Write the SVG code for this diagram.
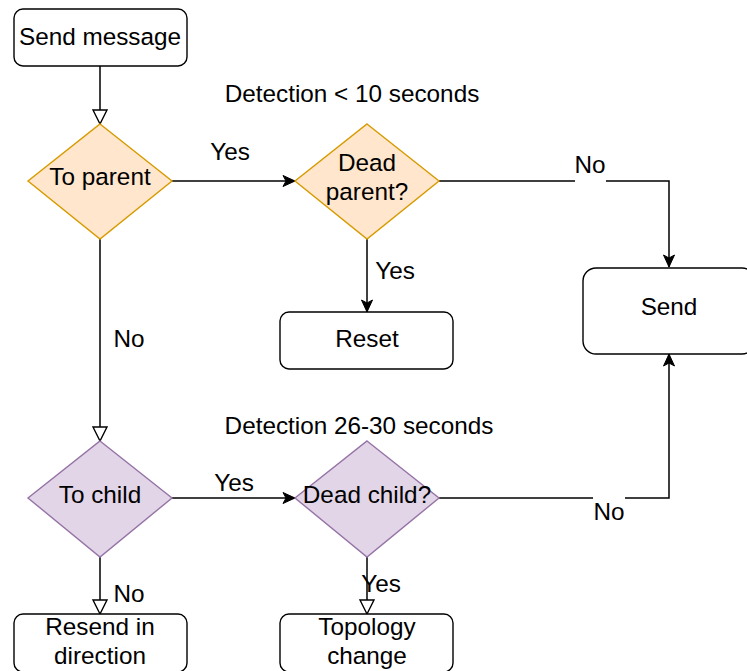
<svg xmlns="http://www.w3.org/2000/svg" width="747" height="671" viewBox="0 0 747 671">
<style>
text{font-family:"Liberation Sans",Arial,sans-serif;font-size:24.3px;fill:#000;text-anchor:middle}
.box{fill:#fff;stroke:#000;stroke-width:1.4}
.org{fill:#ffe6cc;stroke:#d79b00;stroke-width:1.4}
.pur{fill:#e1d5e7;stroke:#9673a6;stroke-width:1.4}
.ln{fill:none;stroke:#000;stroke-width:1.5}
.open{marker-end:url(#open)}
.blk{marker-end:url(#blk)}
.bg{fill:#fff}
</style>
<defs>
<marker id="open" markerUnits="userSpaceOnUse" markerWidth="18" markerHeight="18" refX="15" refY="8" orient="auto" viewBox="0 0 18 18">
<path d="M1,1 L15,8 L1,15 Z" fill="#fff" stroke="#000" stroke-width="1.4"/>
</marker>
<marker id="blk" markerUnits="userSpaceOnUse" markerWidth="16" markerHeight="16" refX="13" refY="8" orient="auto" viewBox="0 0 16 16">
<path d="M1,2.5 L13,8 L1,13.5 L4,8 Z" fill="#000" stroke="#000" stroke-width="1"/>
</marker>
</defs>
<g id="connectors">
<path class="ln open" d="M100,66 L100,124"/>
<path class="ln blk" d="M172,181 L295,181"/>
<path class="ln blk" d="M439,181 L669,181 L669,267"/>
<path class="ln blk" d="M367,239 L367,312"/>
<path class="ln open" d="M100,239 L100,441"/>
<path class="ln blk" d="M172,498 L295,498"/>
<path class="ln blk" d="M439,498 L669,498 L669,354"/>
<path class="ln open" d="M100,557 L100,614"/>
<path class="ln open" d="M367,557 L367,614"/>
<rect class="bg" x="575" y="150" width="31" height="33"/>
<rect class="bg" x="593" y="495" width="32" height="32"/>
<text x="230" y="160">Yes</text>
<text x="590" y="173">No</text>
<text x="395" y="279">Yes</text>
<text x="129" y="347">No</text>
<text x="234" y="491">Yes</text>
<text x="609" y="520">No</text>
<text x="381" y="592">Yes</text>
<text x="129" y="602">No</text>
</g>
<g id="labels">
<text x="352" y="102">Detection &lt; 10 seconds</text>
<text x="359" y="434">Detection 26-30 seconds</text>
</g>
<g id="send-message">
<rect class="box" x="14" y="9" width="173" height="57" rx="9"/>
<text x="100" y="45">Send message</text>
</g>
<g id="to-parent">
<polygon class="org" points="100,124 172,181 100,239 28,181"/>
<text x="100" y="185">To parent</text>
</g>
<g id="dead-parent">
<polygon class="org" points="367,124 439,181 367,239 295,181"/>
<text x="367" y="171">Dead</text>
<text x="367" y="200">parent?</text>
</g>
<g id="send">
<rect class="box" x="583" y="268" width="172" height="86" rx="13"/>
<text x="669" y="315">Send</text>
</g>
<g id="reset">
<rect class="box" x="280" y="312" width="173" height="57" rx="9"/>
<text x="367" y="347">Reset</text>
</g>
<g id="to-child">
<polygon class="pur" points="100,441 172,498 100,557 28,498"/>
<text x="100" y="503">To child</text>
</g>
<g id="dead-child">
<polygon class="pur" points="367,441 439,498 367,557 295,498"/>
<text x="367" y="503">Dead child?</text>
</g>
<g id="resend">
<rect class="box" x="14" y="614" width="173" height="58" rx="9"/>
<text x="100" y="635">Resend in</text>
<text x="100" y="664">direction</text>
</g>
<g id="topology">
<rect class="box" x="280" y="614" width="173" height="58" rx="9"/>
<text x="367" y="635">Topology</text>
<text x="367" y="664">change</text>
</g>
</svg>
